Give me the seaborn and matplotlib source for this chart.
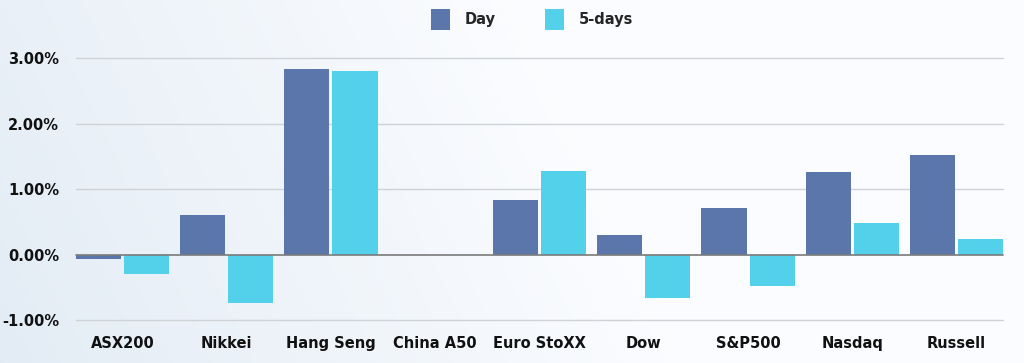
import numpy as np
import pandas as pd
import matplotlib
matplotlib.use("Agg")
import matplotlib.pyplot as plt
import seaborn as sns

categories = ["ASX200", "Nikkei", "Hang Seng", "China A50", "Euro StoXX", "Dow", "S&P500", "Nasdaq", "Russell"]
day_values = [-0.06, 0.61, 2.84, 0.0, 0.84, 0.30, 0.72, 1.27, 1.53]
five_day_values = [-0.30, -0.73, 2.80, 0.0, 1.28, -0.66, -0.48, 0.48, 0.24]
series_names = ["Day", "5-days"]
y_ticks = [-1.0, 0.0, 1.0, 2.0, 3.0]

df = pd.DataFrame({
    "Index": categories * 2,
    "Series": [series_names[0]] * len(categories) + [series_names[1]] * len(categories),
    "Value": day_values + five_day_values,
})

sns.set_theme(style="white")
plt.rcParams["font.family"] = ["DejaVu Sans"]

fig = plt.figure(figsize=(10.24, 3.63), dpi=100)

# background gradient
bg = fig.add_axes([0, 0, 1, 1], zorder=-10)
grad = np.linspace(0, 1, 256)
gx, gy = np.meshgrid(grad, np.linspace(0, 1, 64))
g = np.clip(1 - (gx * 1.5 + gy * 0.25), 0, 1)
c0 = np.array([0.89, 0.925, 0.96])
c1 = np.array([0.985, 0.99, 1.0])
img = c1[None, None, :] * (1 - g[..., None]) + c0[None, None, :] * g[..., None]
bg.imshow(img, aspect="auto", extent=[0, 1, 0, 1], origin="lower")
bg.axis("off")

ax = fig.add_axes([76 / 1024, (363 - 320.3) / 363, (1003 - 76) / 1024, (320.3 - 58.3) / 363])
ax.patch.set_alpha(0)

palette = {"Day": "#5A76AB", "5-days": "#53D0EA"}
sns.barplot(data=df, x="Index", y="Value", hue="Series", palette=palette,
            width=0.921, gap=0.0625, ax=ax, saturation=1, zorder=3, legend=True,
            linewidth=0)

ax.set_ylim(-1.0, 3.0)
ax.set_xlim(-0.446, len(categories) - 1 + 0.446)
ax.set_yticks(y_ticks)
ax.set_yticklabels([f"{v:.2f}%" for v in y_ticks])
for v in y_ticks:
    if v == 0:
        ax.axhline(v, color="#7a7a7a", lw=1.2, zorder=4, clip_on=False)
    else:
        ax.axhline(v, color="#cfd3d8", lw=1.0, zorder=1, clip_on=False)
for s in ax.spines.values():
    s.set_visible(False)
ax.set_xlabel("")
ax.set_ylabel("")
ax.tick_params(axis="both", length=0, labelsize=10.5, colors="#111111")
ax.tick_params(axis="x", pad=11)
ax.tick_params(axis="y", pad=12)
for lbl in ax.get_xticklabels() + ax.get_yticklabels():
    lbl.set_fontweight("bold")

leg = ax.legend(loc="upper center", bbox_to_anchor=(0.492, 1.24), ncol=2, frameon=False,
                prop={"weight": "bold", "size": 10.5}, handlelength=1.3, handleheight=1.9,
                columnspacing=3.35, handletextpad=1.0)

fig.savefig("out.png", dpi=100)
